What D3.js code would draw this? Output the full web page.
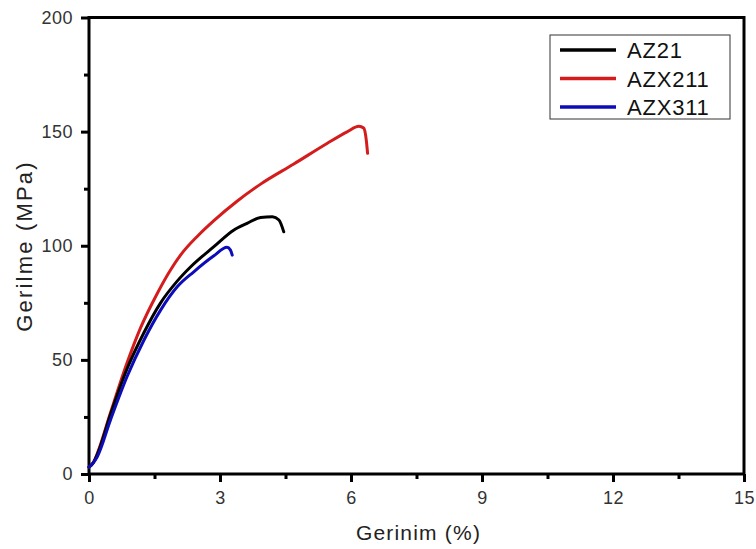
<!DOCTYPE html>
<html lang="en">
<head>
    <meta charset="utf-8">
    <title>Gerilme - Gerinim</title>
    <style>
        body {
            margin: 0;
            background: #fff;
            font-family: "Liberation Sans", Arial, sans-serif;
        }
    </style>
</head>
<body>
    <script src="https://d3js.org/d3.v7.min.js"></script>
    <script>
    // strain (%) / stress (MPa)
    var az21X   = [0, 0.1, 0.2, 0.49, 0.87, 1.26, 1.64, 2.02, 2.33, 2.86, 3.32, 3.62, 3.93, 4.2, 4.35, 4.46];
    var az21Y   = [3, 5, 9, 26, 46, 62, 75, 84.5, 90.8, 99.6, 106.9, 109.8, 112.4, 112.7, 111.3, 106.1];
    var azx211X = [0, 0.1, 0.2, 0.49, 0.87, 1.18, 1.56, 1.87, 2.1, 2.5, 2.86, 3.39, 3.93, 4.69, 5.45, 5.91, 6.18, 6.29, 6.35, 6.38];
    var azx211Y = [3, 5, 9.5, 26.7, 48.6, 64, 79, 89.5, 96, 104.5, 111, 119.5, 127, 135.8, 144.8, 149.9, 152.4, 151.6, 146.3, 140.5];
    var azx311X = [0, 0.1, 0.19, 0.49, 0.87, 1.26, 1.64, 2.02, 2.4, 2.86, 3.16, 3.24, 3.28];
    var azx311Y = [3, 5, 7.6, 23.6, 42.6, 58.7, 71.8, 82, 88.6, 95.6, 99.3, 98.1, 95.9];

    var seriesNames = ["AZ21", "AZX211", "AZX311"];
    var seriesColors = ["#000000", "#d41c1c", "#0c0cb8"];
    var xTicks = [0, 3, 6, 9, 12, 15];
    var yTicks = [0, 50, 100, 150, 200];

    var w = 756, h = 549;
    var plotLeft = 89, plotRight = 744, plotTop = 17.5, plotBottom = 474;

    var svg = d3.select("body").append("svg")
        .attr("width", w)
        .attr("height", h);

    var x = d3.scaleLinear().domain([0, 15]).range([plotLeft, plotRight]);
    var y = d3.scaleLinear().domain([0, 200]).range([plotBottom, plotTop]);

    // frame
    svg.append("rect")
        .attr("x", plotLeft).attr("y", plotTop)
        .attr("width", plotRight - plotLeft).attr("height", plotBottom - plotTop)
        .attr("fill", "none").attr("stroke", "#000").attr("stroke-width", 3);

    // x axis: majors every 3, minors every 1.5
    svg.append("g").attr("transform", "translate(0," + plotBottom + ")")
        .call(d3.axisBottom(x).tickValues(xTicks).tickSize(8).tickPadding(9));
    svg.append("g").attr("transform", "translate(0," + plotBottom + ")")
        .call(d3.axisBottom(x).tickValues(d3.range(1.5, 15, 3)).tickSize(5).tickFormat(""));

    svg.append("g").attr("transform", "translate(" + plotLeft + ",0)")
        .call(d3.axisLeft(y).tickValues(yTicks).tickSize(8).tickPadding(8));
    svg.append("g").attr("transform", "translate(" + plotLeft + ",0)")
        .call(d3.axisLeft(y).tickValues(d3.range(25, 200, 50)).tickSize(5).tickFormat(""));

    svg.selectAll(".domain").remove();
    svg.selectAll(".tick line").attr("stroke", "#000").attr("stroke-width", 3);
    svg.selectAll(".tick text")
        .attr("fill", "#333")
        .attr("font-family", "'Liberation Sans', Arial, sans-serif")
        .attr("font-size", 18)
        .style("letter-spacing", "0.5px");

    // axis titles
    svg.append("text")
        .attr("x", (plotLeft + plotRight) / 2 + 2).attr("y", 540)
        .attr("text-anchor", "middle")
        .attr("fill", "#222")
        .style("font-size", "21px")
        .style("letter-spacing", "1.2px")
        .text("Gerinim (%)");

    svg.append("text")
        .attr("transform", "translate(32,246) rotate(-90)")
        .attr("text-anchor", "middle")
        .attr("fill", "#222")
        .style("font-size", "22px")
        .style("letter-spacing", "2.2px")
        .text("Gerilme (MPa)");

    // curves
    var line = d3.line()
        .x(function(d) { return x(d[0]); })
        .y(function(d) { return y(d[1]); })
        .curve(d3.curveMonotoneX);

    var data = [d3.zip(az21X, az21Y), d3.zip(azx211X, azx211Y), d3.zip(azx311X, azx311Y)];
    var order = [1, 0, 2];
    order.forEach(function(i) {
        svg.append("path")
            .datum(data[i])
            .attr("d", line)
            .attr("fill", "none")
            .attr("stroke", seriesColors[i])
            .attr("stroke-width", 3)
            .attr("stroke-linejoin", "round")
            .attr("stroke-linecap", "round");
    });

    // legend
    var legend = svg.append("g");
    legend.append("rect")
        .attr("x", 550).attr("y", 35)
        .attr("width", 180).attr("height", 84)
        .attr("fill", "#fff").attr("stroke", "#333").attr("stroke-width", 1);

    seriesNames.forEach(function(name, i) {
        var ly = 50 + i * 28.5;
        legend.append("line")
            .attr("x1", 560).attr("x2", 616)
            .attr("y1", ly).attr("y2", ly)
            .attr("stroke", seriesColors[i]).attr("stroke-width", 3.5);
        legend.append("text")
            .attr("x", 627).attr("y", ly + 8)
            .attr("fill", "#111")
            .style("font-size", "22px")
            .style("letter-spacing", "0.8px")
            .text(name);
    });
    </script>
</body>
</html>
